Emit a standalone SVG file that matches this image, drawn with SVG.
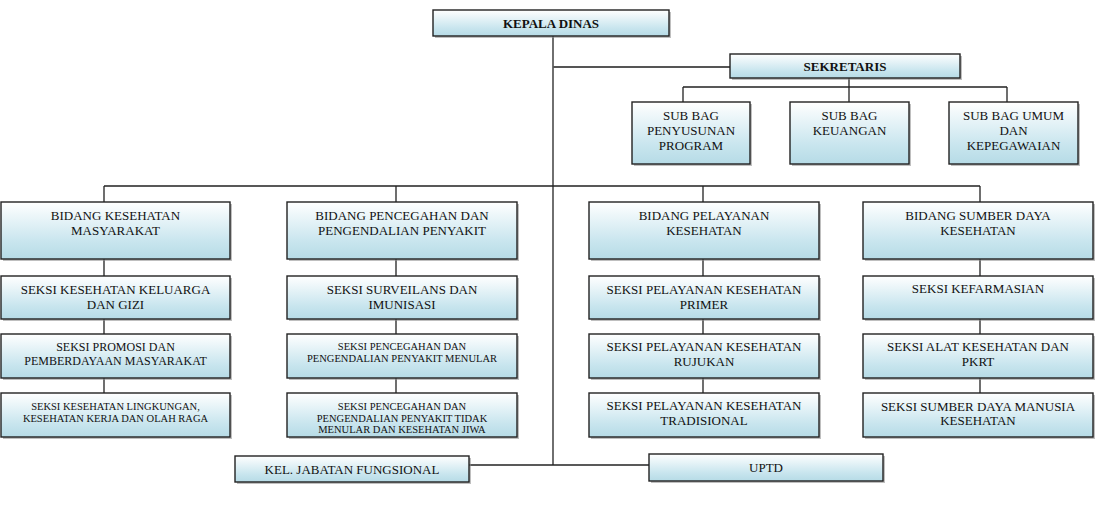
<svg xmlns="http://www.w3.org/2000/svg" width="1114" height="510" viewBox="0 0 1114 510">
<defs>
<linearGradient id="g" x1="0" y1="0" x2="0" y2="1">
<stop offset="0" stop-color="#ffffff"/>
<stop offset="0.7" stop-color="#c8e5ee"/>
<stop offset="1" stop-color="#b6dbe6"/>
</linearGradient>
<style>
.b{fill:url(#g);stroke:#222;stroke-width:1.4}
.s{fill:#8a8a8a;opacity:0.55}
text{font-family:"Liberation Serif","Times New Roman",serif;fill:#111;text-anchor:middle}
.t13{font-size:13px}
.t12{font-size:12px}
.t10{font-size:10.5px}
.bd{font-weight:bold}
.c{fill:none;stroke:#222;stroke-width:1.3}
.cg{fill:none;stroke:#555;stroke-width:2}
</style>
</defs>
<rect width="1114" height="510" fill="#ffffff"/>
<g id="connectors">
<path class="c" d="M553 36V465"/>
<path class="cg" d="M553 67H730"/>
<path class="c" d="M849 78V87M683 87H1007M683 87V102M849 87V102M1007 87V102"/>
<path class="c" d="M104 186H980M104 186V202M396 186V202M703 186V202M980 186V202"/>
<path class="c" d="M104 259V276M104 319V334M104 378V393"/>
<path class="c" d="M396 259V276M396 319V334M396 378V393"/>
<path class="c" d="M703 259V276M703 319V334M703 378V393"/>
<path class="c" d="M980 259V276M980 319V334M980 378V393"/>
<path class="c" d="M469 465H649"/>
</g>
<g id="kepala-dinas">
<rect class="s" x="435" y="12" width="236" height="26"/>
<rect class="b" x="433" y="10" width="236" height="26"/>
<text class="t13 bd" x="551" y="27.5">KEPALA DINAS</text>
</g>
<g id="sekretaris">
<rect class="s" x="732" y="56" width="230" height="24"/>
<rect class="b" x="730" y="54" width="230" height="24"/>
<text class="t13 bd" x="845" y="71">SEKRETARIS</text>
</g>
<g id="subbag-program">
<rect class="s" x="634" y="104" width="118" height="62"/>
<rect class="b" x="632" y="102" width="118" height="62"/>
<text class="t13" x="691" y="119.5">SUB BAG</text>
<text class="t13" x="691" y="134.5">PENYUSUNAN</text>
<text class="t13" x="691" y="150">PROGRAM</text>
</g>
<g id="subbag-keuangan">
<rect class="s" x="792" y="104" width="119" height="62"/>
<rect class="b" x="790" y="102" width="119" height="62"/>
<text class="t13" x="849.5" y="119.5">SUB BAG</text>
<text class="t13" x="849.5" y="134.5">KEUANGAN</text>
</g>
<g id="subbag-umum">
<rect class="s" x="951" y="104" width="129" height="62"/>
<rect class="b" x="949" y="102" width="129" height="62"/>
<text class="t13" x="1013.5" y="119.5">SUB BAG UMUM</text>
<text class="t13" x="1013.5" y="134.5">DAN</text>
<text class="t13" x="1013.5" y="150">KEPEGAWAIAN</text>
</g>
<g id="bidang-kesmas">
<rect class="s" x="3" y="204" width="229" height="57"/>
<rect class="b" x="1" y="202" width="229" height="57"/>
<text class="t13" x="115.5" y="219.5">BIDANG KESEHATAN</text>
<text class="t13" x="115.5" y="234.5">MASYARAKAT</text>
</g>
<g id="seksi-keluarga-gizi">
<rect class="s" x="3" y="278" width="229" height="43"/>
<rect class="b" x="1" y="276" width="229" height="43"/>
<text class="t13" x="115.5" y="293.5">SEKSI KESEHATAN KELUARGA</text>
<text class="t13" x="115.5" y="308.5">DAN GIZI</text>
</g>
<g id="seksi-promosi">
<rect class="s" x="3" y="336" width="229" height="44"/>
<rect class="b" x="1" y="334" width="229" height="44"/>
<text class="t12" x="115.5" y="351">SEKSI PROMOSI DAN</text>
<text class="t12" x="115.5" y="365">PEMBERDAYAAN MASYARAKAT</text>
</g>
<g id="seksi-kesling">
<rect class="s" x="3" y="395" width="229" height="44"/>
<rect class="b" x="1" y="393" width="229" height="44"/>
<text class="t10" x="115.5" y="410">SEKSI KESEHATAN LINGKUNGAN,</text>
<text class="t10" x="115.5" y="421.5">KESEHATAN KERJA DAN OLAH RAGA</text>
</g>
<g id="bidang-p2p">
<rect class="s" x="289" y="204" width="230" height="57"/>
<rect class="b" x="287" y="202" width="230" height="57"/>
<text class="t13" x="402" y="219.5">BIDANG PENCEGAHAN DAN</text>
<text class="t13" x="402" y="234.5">PENGENDALIAN PENYAKIT</text>
</g>
<g id="seksi-surveilans">
<rect class="s" x="289" y="278" width="230" height="43"/>
<rect class="b" x="287" y="276" width="230" height="43"/>
<text class="t13" x="402" y="293.5">SEKSI SURVEILANS DAN</text>
<text class="t13" x="402" y="308.5">IMUNISASI</text>
</g>
<g id="seksi-p2pm">
<rect class="s" x="289" y="336" width="230" height="44"/>
<rect class="b" x="287" y="334" width="230" height="44"/>
<text class="t10" x="402" y="350">SEKSI PENCEGAHAN DAN</text>
<text class="t10" x="402" y="362">PENGENDALIAN PENYAKIT MENULAR</text>
</g>
<g id="seksi-p2ptm">
<rect class="s" x="289" y="395" width="230" height="44"/>
<rect class="b" x="287" y="393" width="230" height="44"/>
<text class="t10" x="402" y="410">SEKSI PENCEGAHAN DAN</text>
<text class="t10" x="402" y="421.5">PENGENDALIAN PENYAKIT TIDAK</text>
<text class="t10" x="402" y="433">MENULAR DAN KESEHATAN JIWA</text>
</g>
<g id="bidang-pelayanan">
<rect class="s" x="591" y="204" width="230" height="57"/>
<rect class="b" x="589" y="202" width="230" height="57"/>
<text class="t13" x="704" y="219.5">BIDANG PELAYANAN</text>
<text class="t13" x="704" y="234.5">KESEHATAN</text>
</g>
<g id="seksi-primer">
<rect class="s" x="591" y="278" width="230" height="43"/>
<rect class="b" x="589" y="276" width="230" height="43"/>
<text class="t13" x="704" y="293.5">SEKSI PELAYANAN KESEHATAN</text>
<text class="t13" x="704" y="308.5">PRIMER</text>
</g>
<g id="seksi-rujukan">
<rect class="s" x="591" y="336" width="230" height="44"/>
<rect class="b" x="589" y="334" width="230" height="44"/>
<text class="t13" x="704" y="350.5">SEKSI PELAYANAN KESEHATAN</text>
<text class="t13" x="704" y="366">RUJUKAN</text>
</g>
<g id="seksi-tradisional">
<rect class="s" x="591" y="395" width="230" height="44"/>
<rect class="b" x="589" y="393" width="230" height="44"/>
<text class="t13" x="704" y="409.5">SEKSI PELAYANAN KESEHATAN</text>
<text class="t13" x="704" y="425">TRADISIONAL</text>
</g>
<g id="bidang-sdk">
<rect class="s" x="865" y="204" width="230" height="57"/>
<rect class="b" x="863" y="202" width="230" height="57"/>
<text class="t13" x="978" y="219.5">BIDANG SUMBER DAYA</text>
<text class="t13" x="978" y="234.5">KESEHATAN</text>
</g>
<g id="seksi-kefarmasian">
<rect class="s" x="865" y="278" width="230" height="43"/>
<rect class="b" x="863" y="276" width="230" height="43"/>
<text class="t13" x="978" y="292.5">SEKSI KEFARMASIAN</text>
</g>
<g id="seksi-alkes">
<rect class="s" x="865" y="336" width="230" height="44"/>
<rect class="b" x="863" y="334" width="230" height="44"/>
<text class="t13" x="978" y="351">SEKSI ALAT KESEHATAN DAN</text>
<text class="t13" x="978" y="366">PKRT</text>
</g>
<g id="seksi-sdmk">
<rect class="s" x="865" y="395" width="230" height="44"/>
<rect class="b" x="863" y="393" width="230" height="44"/>
<text class="t13" x="978" y="410.5">SEKSI SUMBER DAYA MANUSIA</text>
<text class="t13" x="978" y="425">KESEHATAN</text>
</g>
<g id="kel-jabatan-fungsional">
<rect class="s" x="237" y="458" width="234" height="26"/>
<rect class="b" x="235" y="456" width="234" height="26"/>
<text class="t13" x="352" y="473.5">KEL. JABATAN FUNGSIONAL</text>
</g>
<g id="uptd">
<rect class="s" x="651" y="456" width="234" height="27"/>
<rect class="b" x="649" y="454" width="234" height="27"/>
<text class="t13" x="766" y="472">UPTD</text>
</g>
</svg>
